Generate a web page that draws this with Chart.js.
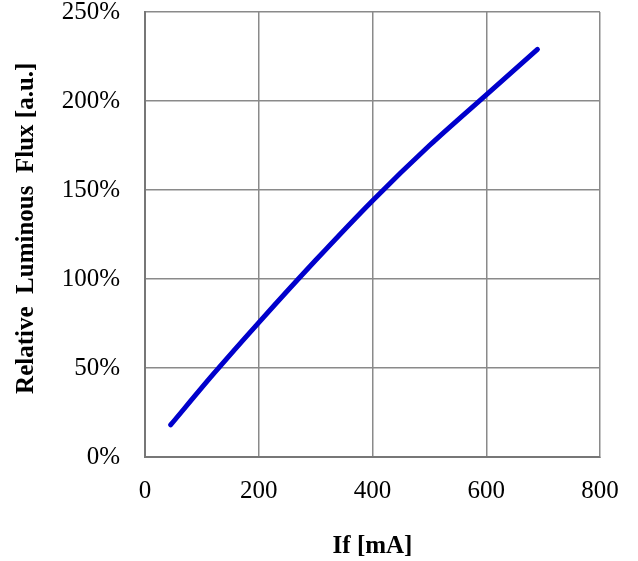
<!DOCTYPE html>
<html>
<head>
<meta charset="utf-8">
<script src="https://cdn.jsdelivr.net/npm/chart.js@4.4.0/dist/chart.umd.min.js"></script>
<style>
  html, body { margin: 0; padding: 0; background: #fff; }
  #wrap { width: 638px; height: 561px; }
</style>
</head>
<body>
<div id="wrap"><canvas id="fluxChart"></canvas></div>
<script>
// forward current [mA] vs relative luminous flux [%]
const currentMa = [45, 120, 200, 300, 400, 500, 600, 690];
const fluxPct = [18, 46.5, 75.5, 110.5, 144, 175, 203.5, 229];
const xTicks = [0, 200, 400, 600, 800];
const yTicks = [0, 50, 100, 150, 200, 250];

const font = 'Liberation Serif, Times New Roman, serif';
const gridColor = '#8a8a8a';

const points = currentMa.map((x, i) => ({ x: x, y: fluxPct[i] }));

const ctx = document.getElementById('fluxChart').getContext('2d');
const fluxChart = new Chart(ctx, {
    type: 'line',
    data: {
        datasets: [{
            label: 'Relative Luminous Flux',
            data: points,
            borderColor: '#0000cc',
            borderWidth: 5,
            borderCapStyle: 'round',
            pointRadius: 0,
            tension: 0.3,
            fill: false
        }]
    },
    options: {
        responsive: true,
        maintainAspectRatio: false,
        animation: false,
        layout: {
            autoPadding: false,
            padding: { left: 0, right: 38, top: 12, bottom: 0 }
        },
        plugins: {
            legend: { display: false },
            tooltip: { enabled: false }
        },
        scales: {
            x: {
                type: 'linear',
                min: 0,
                max: 800,
                afterBuildTicks: (scale) => { scale.ticks = xTicks.map(v => ({ value: v })); },
                afterFit: (scale) => { scale.height = 104; scale.paddingLeft = 0; scale.paddingRight = 0; },
                grid: { color: gridColor, lineWidth: 1.5, tickLength: 0 },
                border: { color: '#777', width: 2 },
                ticks: {
                    color: '#000',
                    padding: 19,
                    maxRotation: 0,
                    font: { family: font, size: 25 }
                },
                title: {
                    display: true,
                    text: 'If [mA]',
                    color: '#000',
                    padding: { top: 0, bottom: -1 },
                    font: { family: font, size: 25, weight: 'bold' }
                }
            },
            y: {
                type: 'linear',
                min: 0,
                max: 250,
                afterBuildTicks: (scale) => { scale.ticks = yTicks.map(v => ({ value: v })); },
                afterFit: (scale) => { scale.width = 145; scale.paddingTop = 0; scale.paddingBottom = 0; },
                grid: { color: gridColor, lineWidth: 1.5, tickLength: 0 },
                border: { color: '#777', width: 2 },
                ticks: {
                    color: '#000',
                    padding: 25,
                    font: { family: font, size: 25 },
                    callback: (v) => v + '%'
                },
                title: {
                    display: true,
                    text: '  Relative  Luminous  Flux [a.u.]',
                    color: '#000',
                    padding: { top: 12, bottom: 0 },
                    font: { family: font, size: 25, weight: 'bold' }
                }
            }
        }
    }
});
</script>
</body>
</html>
